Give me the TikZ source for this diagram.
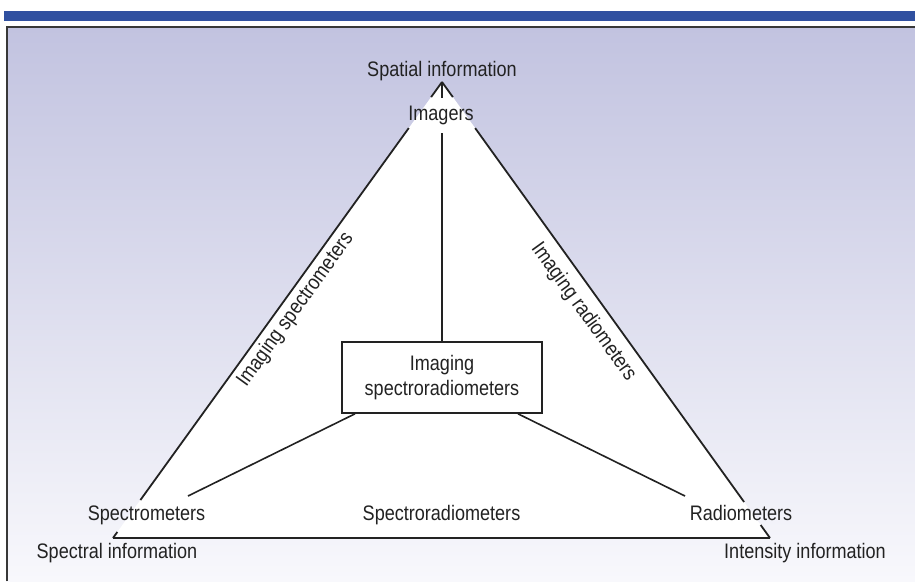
\documentclass[tikz,border=0pt]{standalone}
\usepackage{fontspec}
\setmainfont{Liberation Sans}[FakeStretch=0.86]
\usetikzlibrary{calc}
\definecolor{barblue}{HTML}{3050A0}
\definecolor{ink}{HTML}{222222}
\definecolor{bgtop}{HTML}{C2C3E0}
\definecolor{bgbot}{HTML}{F8F8FC}
\begin{document}
\begin{tikzpicture}[x=1pt,y=-1pt,
  lbl/.style={font=\fontsize{21}{25}\selectfont, text=ink, inner sep=0pt, anchor=base},
  edge/.style={draw=ink, line width=1.8pt},
  thin/.style={draw=ink, line width=1.6pt},
  framel/.style={draw=ink!90, line width=2pt}]
\useasboundingbox (0,0) rectangle (915,581);
\fill[white] (0,0) rectangle (915,581);
\fill[barblue] (4,11) rectangle (915,21);
\shade[top color=bgtop, bottom color=bgbot] (6,27) rectangle (915,581);
\draw[framel] (6.5,581) -- (6.5,27) -- (915,27);

% triangle vertices
\coordinate (A) at (442,82);
\coordinate (L) at (113,538);
\coordinate (R) at (770,538);
\fill[white] (A) -- (L) -- (R) -- cycle;

% labels
\node[lbl] (spatial) at (442,76) {Spatial information};
\node[lbl] (imagers) at (441,120) {Imagers};
\node[lbl] (spectrometers) at (146.5,520) {Spectrometers};
\node[lbl] (spectroradio) at (441.5,520) {Spectroradiometers};
\node[lbl] (radiometers) at (741,520) {Radiometers};
\node[lbl] (spectral) at (117,558) {Spectral information};
\node[lbl] (intensity) at (805,558) {Intensity information};
\node[lbl, rotate=54.2] (imspec) at (300,313) {Imaging spectrometers};
\node[lbl, rotate=-54.2] (imrad) at (579,315) {Imaging radiometers};

% central box
\node[thin, minimum width=200pt, minimum height=71pt, inner sep=0pt,
      align=center, font=\fontsize{21}{25}\selectfont, text=ink]
      (box) at (442,377.5) {Imaging\\spectroradiometers};

% edges with gaps around labels
\draw[edge] (A) -- ($(L)!0.967!(A)$);
\draw[edge] ($(L)!0.899!(A)$) -- ($(L)!0.0833!(A)$);
\draw[edge] ($(L)!0.0132!(A)$) -- (L);
\draw[edge] (A) -- ($(R)!0.967!(A)$);
\draw[edge] ($(R)!0.899!(A)$) -- ($(R)!0.079!(A)$);
\draw[edge] ($(R)!0.0285!(A)$) -- (R);
\draw[edge] (L) -- (R);

% inner connectors
\coordinate (imtop) at (442,98);
\coordinate (imbot) at (442,133);
\draw[thin] (A) -- (imtop);
\draw[thin] (imbot) -- (box.north);
\coordinate (specend) at (188,496);
\coordinate (radend) at (685,496);
\draw[thin] ([xshift=-87pt]box.south) -- (specend);
\draw[thin] ([xshift=76pt]box.south) -- (radend);
\end{tikzpicture}
\end{document}
